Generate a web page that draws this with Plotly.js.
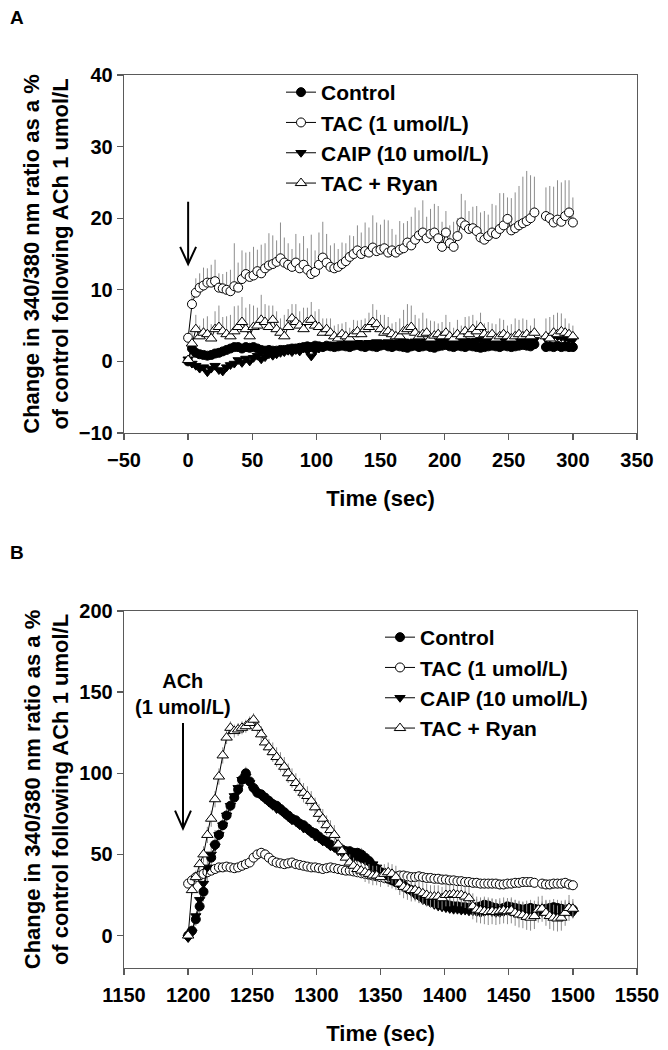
<!DOCTYPE html>
<html>
<head>
<meta charset="utf-8">
<script src="https://cdn.plot.ly/plotly-3.0.1.min.js"></script>
<style>html,body{margin:0;padding:0;background:#fff;}#chart{width:668px;height:1050px;}</style>
</head>
<body>
<div id="chart"></div>
<script>
// ---------- Panel A data (time 0-300 s) ----------
var timeA = [0,3,6,9,12,15,18,21,24,27,
  30,33,36,39,42,45,48,51,54,57,
  60,63,66,69,72,75,78,81,84,87,
  90,93,96,99,102,105,108,111,114,117,
  120,123,126,129,132,135,138,141,144,147,
  150,153,156,159,162,165,168,171,174,177,
  180,183,186,189,192,195,198,201,204,207,
  210,213,216,219,222,225,228,231,234,237,
  240,243,246,249,252,255,258,261,264,267,
  270,273,276,279,282,285,288,291,294,297,
  300];
var controlA = [0,1.8,1.2,1.0,0.9,0.8,0.9,1.1,1.2,1.4,
  1.6,1.8,2.0,2.0,1.8,2.0,1.9,2.0,1.8,1.6,
  1.5,1.6,1.5,1.5,1.6,1.6,1.7,1.8,1.8,1.9,
  2.0,2.1,2.0,2.2,2.1,2.0,2.2,2.1,2.0,2.1,
  2.2,2.1,2.0,2.2,2.3,2.1,2.0,2.2,2.1,2.0,
  2.2,2.3,2.1,2.0,2.2,2.1,2.0,1.9,2.1,2.2,
  2.0,2.1,2.2,2.0,1.9,2.1,2.2,2.3,2.1,2.0,
  2.2,2.1,2.0,2.2,2.1,2.0,1.9,2.0,2.1,2.2,
  2.1,2.0,2.2,2.1,2.0,2.1,2.2,2.3,2.2,2.1,
  2.4,null,null,2.0,2.1,2.0,2.2,2.0,2.1,2.0,
  2.0];
var tacA = [3.3,8.0,9.6,10.3,10.6,11.0,11.0,11.2,10.3,10.2,
  10.0,9.8,10.5,10.3,11.5,12.2,11.8,12.0,12.6,12.3,
  13.0,13.4,13.6,13.9,14.4,13.8,13.5,13.2,13.8,13.0,
  13.5,12.8,12.2,12.5,13.5,14.5,13.8,13.2,13.0,13.2,
  13.6,14.0,14.6,15.0,15.5,15.0,15.4,15.2,15.9,15.4,
  15.6,15.8,15.2,15.5,15.2,15.6,15.8,16.6,16.2,17.0,
  17.6,18.0,17.2,17.8,18.0,17.2,16.0,18.0,16.5,16.0,
  17.5,19.4,19.0,18.5,18.6,18.2,17.3,17.0,17.5,18.0,
  17.8,18.5,19.0,19.9,18.3,18.6,19.0,19.3,19.6,20.0,
  20.8,null,null,20.3,20.0,19.4,19.8,19.5,20.3,20.8,
  19.4];
var tacAErr = [0,1.5,2,2,2.5,2,2.5,3,2,2,
  2.5,3,6,3.5,4,3,3.5,4,3,4,
  3.5,4.5,4,3,5,3.5,3,2.5,4,3.5,
  4,3,5.5,3,4.5,5,4,3,3.5,2.5,
  3,2.5,3,2.5,3.5,3,4,3.5,4.5,4,
  3.5,4,4.5,3,2.5,4,3.5,3,4,4.5,
  3.5,4.5,3,3.5,4,4.5,3.5,3,2.5,3.5,
  2.5,4,3.5,2.5,3,3.5,3.5,4,3,4,
  4,5,4.5,3,4.5,5,5.5,6.5,7,6,
  5,0,0,4,4.5,5,5.5,5.5,5,4.5,
  3.5];
var caipA = [0.3,-0.3,-0.6,-1.0,-0.8,-1.5,-1.0,-0.6,-1.2,-1.4,
  -0.8,-0.5,-0.3,0.2,-0.2,0.4,0.0,0.5,0.8,0.3,
  0.6,1.0,0.8,1.0,1.2,1.3,1.5,1.3,1.6,1.4,
  1.8,1.5,0.7,1.5,1.8,2.0,2.2,2.2,2.3,2.2,
  2.4,2.3,2.5,2.4,2.6,2.5,2.4,2.6,2.5,2.7,
  2.6,2.5,2.7,2.6,2.5,2.7,2.8,2.6,2.7,2.8,
  2.6,2.7,2.8,2.7,2.6,2.8,2.7,2.9,2.8,2.7,
  2.8,2.7,2.9,2.8,2.7,2.9,3.0,2.8,2.7,2.9,
  2.8,2.9,3.0,2.8,2.9,3.0,2.9,3.1,3.0,2.9,
  3.0,null,null,3.2,3.4,3.6,3.5,3.4,3.3,3.1,
  3.0];
var ryanA = [0.2,2.5,4.5,3.5,4.0,3.8,3.2,4.5,4.8,4.2,
  3.8,3.5,4.2,4.8,5.5,4.5,3.5,4.8,5.0,5.8,
  5.5,4.8,5.8,4.5,4.0,3.5,4.8,6.0,5.5,5.0,
  4.5,5.5,5.8,5.0,4.8,4.0,4.5,4.0,3.5,3.2,
  3.8,3.5,3.2,3.8,4.2,3.8,4.5,4.8,5.5,5.2,
  4.5,4.0,4.2,3.8,3.5,3.5,4.2,4.5,4.8,4.0,
  3.5,3.8,4.0,3.2,3.6,3.8,3.5,4.0,3.5,3.2,
  3.8,3.5,4.2,3.8,4.5,4.2,4.8,3.8,3.5,3.8,
  3.2,3.5,3.8,3.5,3.2,3.5,3.8,3.5,3.8,3.5,
  4.0,null,null,3.5,3.2,4.0,3.8,4.2,4.0,3.8,
  3.5];
var ryanAErr = [0,1.5,2,1.5,2,2.5,2,2.5,3,2,
  2.5,3,3.5,3,3.5,3,4.5,3,2.5,3.5,
  2.5,3,2,2.5,2,3,2.5,2,2.5,2,
  3,2,2.5,2,2.5,2,1.5,2,1.5,2,
  1.5,2,1.5,2,1.5,2,1.5,2,2.5,2,
  2,2.5,2,1.5,2,2.5,3,3.5,3,2.5,
  2.5,3,2,2.5,2,1.5,2,2.5,2,1.5,
  2,1.5,2,2.5,2,1.5,2,1.5,2,1.5,
  2,2.5,2,1.5,2,2.5,2,2.5,2,1.5,
  2,0,0,2.5,3,2.5,3,2.5,2,1.5,
  1.5];

// ---------- Panel B data (time 1200-1500 s) ----------
var timeB = [1200,1203,1206,1209,1212,1215,1218,1221,1224,1227,
  1230,1233,1236,1239,1242,1245,1248,1251,1254,1257,
  1260,1263,1266,1269,1272,1275,1278,1281,1284,1287,
  1290,1293,1296,1299,1302,1305,1308,1311,1314,1317,
  1320,1323,1326,1329,1332,1335,1338,1341,1344,1347,
  1350,1353,1356,1359,1362,1365,1368,1371,1374,1377,
  1380,1383,1386,1389,1392,1395,1398,1401,1404,1407,
  1410,1413,1416,1419,1422,1425,1428,1431,1434,1437,
  1440,1443,1446,1449,1452,1455,1458,1461,1464,1467,
  1470,1473,1476,1479,1482,1485,1488,1491,1494,1497,
  1500];
var controlB = [0,3,10,18,27,40,48,56,62,68,
  74,80,85,90,96,100,95,91,88,87,
  85,83,81,80,78,76,74,72,71,69,
  68,66,64,63,61,59,58,56,55,54,
  53,52,52,51,51,50,48,46,43,41,
  39,37,35,34,33,32,31,29,28,27,
  25,24,23,22,21,20,19.5,19,18.5,18,
  18,17.5,17.5,17,17,17.5,18,19,18.5,17.5,
  17,16.5,17,18,17.5,17,16.5,16,16.5,17,
  16.5,16,16,16.5,17,17.5,17,16.5,16,16.5,
  16];
var controlBErr = [0,3,4,5,6,8,10,9,8,7,
  6,6,5,5,4,4,4,3,3,3,
  3,3,3,3,3,3,3,3,3,3,
  3,3,3,3,3,3,3,3,3,3,
  3,3,3,3,3,4,4,4,4,4,
  4,4,5,5,5,5,5,5,5,5,
  5,5,5,5,5,5,5,5,5,5,
  5,5,5,5,5,5,5,5,5,5,
  5,5,5,5,5,5,5,5,5,5,
  5,5,5,5,5,5,5,5,5,5,
  5];
var tacB = [32,34,36,37,38,39,40,41,42,42,
  42.5,42,41.5,42,43,44,45,48,50,51,
  50,48,46,45,44.5,44,44.5,45,44,43.5,
  43,42.5,42,42,41.5,41,41.5,42,41.5,41,
  40.5,40,40,39.5,39,38.5,38,37.5,37,36.5,
  36,35.5,35.5,36,36.5,37,37,36.5,36,36,
  36.5,36,35.5,35.5,35,35,34.5,34.5,34,34,
  33.5,33.5,33,33,32.5,32.5,32,32,32,32,
  32,31.5,31.5,32,32,32.5,32.5,33,33,33,
  32.5,null,32,31.5,31.5,32,32,32,32.5,31.5,
  31];
var tacBErr = [2,3,3,3,2,2,2,2,2,2,
  2,2,2,2,2,2,2,2,3,3,
  3,3,2,2,2,2,2,2,2,2,
  2,2,2,2,2,2,2,2,2,2,
  2,2,2,2,2,3,3,3,3,3,
  3,3,3,3,3,3,3,3,3,3,
  3,3,3,3,3,3,3,3,3,3,
  3,3,3,3,3,3,3,3,3,3,
  3,3,3,3,3,3,3,3,3,3,
  3,0,3,3,3,3,3,3,3,3,
  3];
var caipB = [-1.5,2,12,22,32,42,50,55,62,68,
  74,80,86,91,96,98,94,90,88,86,
  84,82,80,78,77,75,73,71,70,68,
  66,65,63,61,60,58,57,55,54,52,
  51,50,49,48,48,47,46,45,44,42,
  40,38,36,35,33,31,30,28,27,25,
  24,22,21,20,19,18,17.5,17,16.5,16,
  16,15.5,15.5,15,15,14.5,14,14.5,15,14.5,
  14,14,14.5,15,14.5,14,14,14.5,15,14.5,
  14,14,14.5,15,15,14.5,14,14,14.5,15,
  14];
var ryanB = [0,28,36,44,50,62,72,84,98,111,
  122,128,126,127,128,129,131,133,128,124,
  119,116,113,110,107,104,100,97,94,91,
  88,86,83,79,75,72,68,65,62,56,
  52,48,45,43,41,40,39,38,37,37,
  36,38,39,38,36,32,30,29,28,28,
  27,26,25,24,24,24,23,25,25,25.5,
  25,25,24,23,18,16,15.5,15,14.5,15,
  14.5,15,15.5,15,15.5,14,13,12.5,11.5,11,
  12,16,16.5,14,12,11,10.5,11,14,17,
  16.5];
var ryanBErr = [0,3,4,4,5,5,5,5,5,5,
  4,4,4,4,4,4,4,4,5,5,
  5,5,6,6,6,6,6,6,6,6,
  6,6,6,6,6,6,6,6,6,6,
  5,5,5,5,5,5,6,6,6,6,
  6,6,6,6,7,7,7,7,7,7,
  7,7,7,7,7,7,7,7,7,7,
  7,7,7,7,8,8,8,8,8,8,
  8,8,8,8,8,8,8,8,8,8,
  8,8,8,8,8,8,8,8,8,8,
  6];

var seriesNames = ['Control', 'TAC (1 umol/L)', 'CAIP (10 umol/L)', 'TAC + Ryan'];
var xTicksA = [-50,0,50,100,150,200,250,300,350];
var yTicksA = [-10,0,10,20,30,40];
var xTicksB = [1150,1200,1250,1300,1350,1400,1450,1500,1550];
var yTicksB = [0,50,100,150,200];
var yTitle = 'Change in 340/380 nm ratio as a %<br>of control following ACh 1 umol/L';

// ---------- styling ----------
var FONT = 'Liberation Sans, Arial, Helvetica, sans-serif';
var styles = [
  {symbol:'circle', color:'#000', size:9},
  {symbol:'circle', color:'#fff', size:9},
  {symbol:'triangle-down', color:'#000', size:9},
  {symbol:'triangle-up', color:'#fff', size:10}
];
function errObj(arr, sym) {
  if (!arr) return {visible:false};
  var o = {type:'data', array:arr, color:'#8c8c8c', thickness:1, width:0, visible:true};
  if (sym) { o.symmetric = true; } else { o.symmetric = false; o.arrayminus = arr.map(function(){return 0;}); }
  return o;
}
function mk(x, y, i, err, sym, xa, ya, leg) {
  var s = styles[i];
  return {
    x:x, y:y, type:'scatter', mode:'lines+markers', name:seriesNames[i],
    xaxis:xa, yaxis:ya, legend:leg, connectgaps:false,
    line:{color:'#000', width:1},
    marker:{symbol:s.symbol, size:s.size, color:s.color, line:{color:'#000', width:1}},
    error_y:errObj(err, sym), cliponaxis:false
  };
}
var data = [
  mk(timeA, controlA, 0, null, false, 'x', 'y', 'legend'),
  mk(timeA, tacA, 1, tacAErr, false, 'x', 'y', 'legend'),
  mk(timeA, caipA, 2, null, false, 'x', 'y', 'legend'),
  mk(timeA, ryanA, 3, ryanAErr, false, 'x', 'y', 'legend'),
  mk(timeB, controlB, 0, controlBErr, true, 'x2', 'y2', 'legend2'),
  mk(timeB, tacB, 1, tacBErr, true, 'x2', 'y2', 'legend2'),
  mk(timeB, caipB, 2, null, true, 'x2', 'y2', 'legend2'),
  mk(timeB, ryanB, 3, ryanBErr, true, 'x2', 'y2', 'legend2')
];

var W = 668, H = 1050;
function px(x){ return x / W; }
function py(y){ return 1 - y / H; }
var tickFont = {family:FONT, size:20, color:'#000', weight:'bold'};
var titleFont = {family:FONT, size:22, color:'#000', weight:'bold'};
function xax(dom, rng, ticks, anchor) {
  return {domain:dom, range:rng, tickvals:ticks, anchor:anchor, showline:true, mirror:true,
    linecolor:'#5a5a5a', linewidth:1.3, ticks:'outside', ticklen:6, tickwidth:1.3, tickcolor:'#5a5a5a',
    showgrid:false, zeroline:false, tickfont:tickFont, automargin:false, ticklabelstandoff:3,
    title:{text:'Time (sec)', font:titleFont, standoff:20}};
}
function yax(dom, rng, ticks, anchor) {
  return {domain:dom, range:rng, tickvals:ticks, anchor:anchor, showline:true, mirror:true,
    linecolor:'#5a5a5a', linewidth:1.3, ticks:'outside', ticklen:6, tickwidth:1.3, tickcolor:'#5a5a5a',
    showgrid:false, zeroline:false, tickfont:tickFont, automargin:false,
    title:{text:yTitle, font:titleFont, standoff:4}};
}
var xdom = [px(124), px(637)];
var legFont = {family:FONT, size:21, color:'#000', weight:'bold'};
var layout = {
  width:W, height:H, margin:{l:0, r:0, t:0, b:0},
  paper_bgcolor:'#fff', plot_bgcolor:'#fff',
  font:{family:FONT, color:'#000'},
  xaxis: xax(xdom, [-50,350], xTicksA, 'y'),
  yaxis: yax([py(433), py(75)], [-10,40], yTicksA, 'x'),
  xaxis2: xax(xdom, [1150,1550], xTicksB, 'y2'),
  yaxis2: yax([py(968), py(611)], [-20,200], yTicksB, 'x2'),
  legend: {x:px(281), y:py(72), xanchor:'left', yanchor:'top', bgcolor:'rgba(0,0,0,0)',
    font:legFont, tracegroupgap:0},
  legend2: {x:px(380), y:py(617), xanchor:'left', yanchor:'top', bgcolor:'rgba(0,0,0,0)',
    font:legFont, tracegroupgap:0},
  showlegend:true,
  annotations:[
    {text:'A', xref:'paper', yref:'paper', x:px(8), y:py(17), xanchor:'left', yanchor:'middle', showarrow:false,
      font:{family:FONT, size:19, color:'#000', weight:'bold'}},
    {text:'B', xref:'paper', yref:'paper', x:px(8), y:py(552), xanchor:'left', yanchor:'middle', showarrow:false,
      font:{family:FONT, size:19, color:'#000', weight:'bold'}},
    {text:'ACh<br>(1 umol/L)', xref:'x2', yref:'y2', x:1196, y:149, xanchor:'center', yanchor:'middle', showarrow:false,
      font:{family:FONT, size:20, color:'#000', weight:'bold'}}
  ],
  shapes:[
    {type:'line', xref:'x', yref:'y', x0:0, x1:0, y0:22.3, y1:13.7, line:{color:'#000', width:2}},
    {type:'path', xref:'x', yref:'y', path:'M -6.2,16.0 L 0,13.6 L 6.2,16.0', line:{color:'#000', width:2}},
    {type:'line', xref:'x2', yref:'y2', x0:1196, x1:1196, y0:131, y1:66.5, line:{color:'#000', width:2}},
    {type:'path', xref:'x2', yref:'y2', path:'M 1189.8,77 L 1196,66 L 1202.2,77', line:{color:'#000', width:2}}
  ]
};
Plotly.newPlot('chart', data, layout, {displayModeBar:false, staticPlot:true});
</script>
</body>
</html>
